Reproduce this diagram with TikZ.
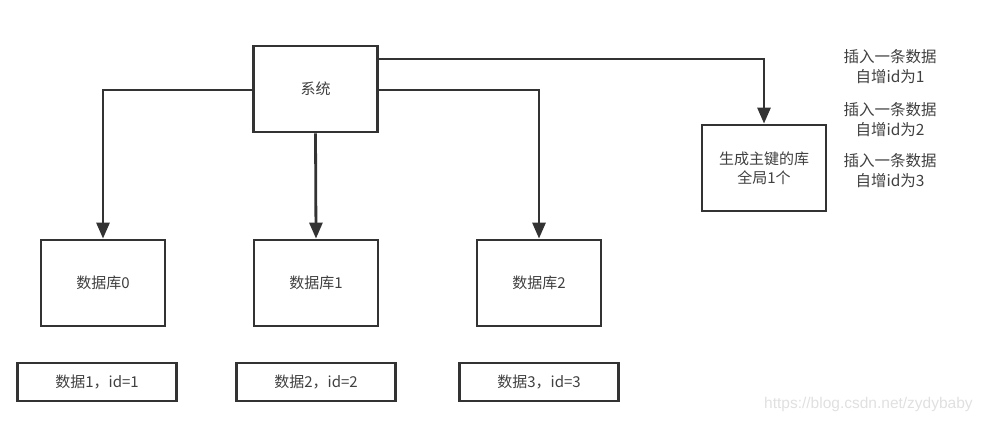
\documentclass[tikz,border=0pt]{standalone}
\usepackage{fontspec}
\newfontfamily\cjk{Noto Sans CJK SC}
\usetikzlibrary{arrows.meta}
\definecolor{ln}{HTML}{333333}
\definecolor{tx}{HTML}{404040}
\begin{document}
\begin{tikzpicture}[x=1pt,y=-1pt,
  box/.style={draw=ln,line width=2.8pt,fill=white,minimum width=124pt,minimum height=86pt,inner sep=0pt,text=tx,font=\cjk\fontsize{15}{19}\selectfont,align=center},
  smallbox/.style={draw=ln,line width=2.4pt,minimum width=159pt,minimum height=38pt,inner sep=0pt,text=tx,font=\cjk\fontsize{15}{19}\selectfont},
  note/.style={text=tx,font=\cjk\fontsize{15.5}{20}\selectfont,align=center,inner sep=0pt},
  conn/.style={draw=ln,line width=2.8pt,-{Triangle[length=16pt,width=13pt]}}]
\useasboundingbox (0,0) rectangle (987,422);
\node[box] (sys) at (315.5,89) {系统};
\node[box] (db0) at (103,283) {数据库0};
\node[box] (db1) at (316,283) {数据库1};
\node[box] (db2) at (539,283) {数据库2};
\node[box] (gen) at (764,168) {生成主键的库\\全局1个};
\node[smallbox] (d0) at (97,382) {数据1，id=1};
\node[smallbox] (d1) at (316,382) {数据2，id=2};
\node[smallbox] (d2) at (539,382) {数据3，id=3};
\node[note] (n1) at (890,67) {插入一条数据\\自增id为1};
\node[note] (n2) at (890,120) {插入一条数据\\自增id为2};
\node[note] (n3) at (890,171) {插入一条数据\\自增id为3};
\node[text=black!12,font=\fontspec{Liberation Sans}\fontsize{15.5}{18}\selectfont,anchor=west,inner sep=0pt] (wm) at (764,404) {https://blog.csdn.net/zydybaby};
\coordinate (c0) at (sys.west |- 0,90);
\coordinate (c2) at (sys.east |- 0,90);
\coordinate (cg) at (sys.east |- 0,59);
\draw[conn] (c0) -| (db0.north);
\draw[conn] (sys.south) -- (db1.north);
\draw[conn] (c2) -| (db2.north);
\draw[conn] (cg) -| (gen.north);
\end{tikzpicture}
\end{document}
